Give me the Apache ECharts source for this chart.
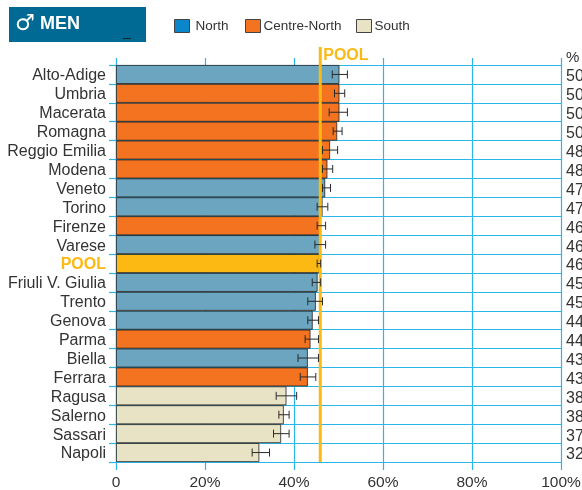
<!DOCTYPE html>
<html>
<head>
<meta charset="utf-8">
<style>html,body{margin:0;padding:0;background:#fff}#c{width:582px;height:490px}</style>
<script src="https://cdn.jsdelivr.net/npm/echarts@6/dist/echarts.min.js"></script>
</head>
<body>
<div id="c"></div>
<script>
const categories = ['Alto-Adige','Umbria','Macerata','Romagna','Reggio Emilia','Modena','Veneto','Torino','Firenze','Varese','POOL','Friuli V. Giulia','Trento','Genova','Parma','Biella','Ferrara','Ragusa','Salerno','Sassari','Napoli'];
const regions = ['North','Centre-North','Centre-North','Centre-North','Centre-North','Centre-North','North','North','Centre-North','North','POOL','North','North','North','Centre-North','North','Centre-North','South','South','South','South'];
const values = [50.2,50.2,50.2,49.7,48.1,47.5,47.0,46.4,45.9,45.9,45.8,45.3,44.9,44.2,43.7,43.1,43.1,38.3,37.7,37.1,32.2];
const lows = [48.6,49.1,47.9,48.8,46.4,46.4,46.4,45.2,45.2,44.7,45.2,44.1,43.1,43.1,42.5,40.9,41.4,36.0,36.6,35.4,30.6];
const highs = [52.0,51.4,52.0,50.8,49.8,48.7,48.2,47.6,47.1,47.1,46.0,46.0,46.4,45.5,45.5,45.5,44.9,40.6,38.9,38.9,34.5];
const percentLabels = ['50','50','50','50','48','48','47','47','46','46','46','45','45','44','44','43','43','38','38','37','32'];
const poolValue = 45.9;

const barColors = {North:'#6ba5bf','Centre-North':'#f47321',South:'#e8e3c5',POOL:'#fdb913'};
const legendColors = {North:'#0b86cb','Centre-North':'#f47321',South:'#e8e3c5'};
const blue = '#2bb6ea';
const ink = '#333333';
const font = '"Liberation Sans", Arial, sans-serif';

const barSeries = Object.keys(barColors).map(name => ({
  name, type:'bar', stack:'all', barWidth:'100%', z:2,
  itemStyle:{color:barColors[name], borderColor:'#222', borderWidth:0.8},
  data: values.map((v,i) => regions[i] === name ? v : null)
}));

const errorSeries = {
  type:'custom', z:6, clip:false, silent:true,
  encode:{x:[1,2], y:0},
  data: categories.map((c,i) => [i, lows[i], highs[i]]),
  renderItem(params, api){
    const a = api.coord([api.value(1), api.value(0)]);
    const b = api.coord([api.value(2), api.value(0)]);
    const style = {stroke:'#2a2a2a', lineWidth:1, fill:null};
    const cap = 4;
    return {type:'group', children:[
      {type:'line', shape:{x1:a[0],y1:a[1],x2:b[0],y2:b[1]}, style},
      {type:'line', shape:{x1:a[0],y1:a[1]-cap,x2:a[0],y2:a[1]+cap}, style},
      {type:'line', shape:{x1:b[0],y1:b[1]-cap,x2:b[0],y2:b[1]+cap}, style}
    ]};
  }
};

const poolSeries = {
  type:'custom', z:5, clip:false, silent:true,
  encode:{x:0},
  data:[[poolValue]],
  renderItem(params, api){
    const x = api.coord([api.value(0), 0])[0];
    const s = params.coordSys;
    const top = s.y - 18;
    return {type:'group', children:[
      {type:'line', shape:{x1:x,y1:top,x2:x,y2:s.y+s.height}, style:{stroke:'#fdb913', lineWidth:3}},
      {type:'text', style:{x:x+3, y:top+9, text:'POOL', fill:'#fdb913', font:'bold 16px '+font, textAlign:'left', textVerticalAlign:'middle'}}
    ]};
  }
};

function legendFor(name, left, gapPad){
  return {
    show:true, left, top:19, orient:'horizontal', itemWidth:15, itemHeight:13, itemGap:0, padding:0,
    selectedMode:false,
    data:[{name, icon:'rect', itemStyle:{color:legendColors[name], borderColor:'#444', borderWidth:1}}],
    textStyle:{fontFamily:font, fontSize:13.5, color:ink, padding:[0,0,0,gapPad]}
  };
}

const chart = echarts.init(document.getElementById('c'), null, {renderer:'canvas'});
chart.setOption({
  animation:false,
  backgroundColor:'#fff',
  textStyle:{fontFamily:font},
  grid:{left:116, top:65, width:445, height:397, containLabel:false, outerBoundsMode:'none'},
  legend:[legendFor('North',174,1), legendFor('Centre-North',245,-2), legendFor('South',356,-2)],
  xAxis:[{
    type:'value', min:0, max:100, interval:20, position:'bottom',
    axisLine:{show:false},
    axisTick:{show:true, length:8, lineStyle:{color:blue, width:1.2}},
    axisLabel:{fontFamily:font, fontSize:15.5, color:ink, margin:13,
      formatter:v => v === 0 ? '0' : v + '%',
      showMaxLabel:true, showMinLabel:true},
    splitLine:{show:true, lineStyle:{color:blue, width:1.2}}
  },{
    type:'value', min:0, max:100, interval:20, position:'top',
    axisLine:{show:false},
    axisTick:{show:true, length:7, lineStyle:{color:blue, width:1.2}},
    axisLabel:{show:false},
    splitLine:{show:false}
  }],
  yAxis:[{
    type:'category', inverse:true, data:categories, position:'left',
    axisLine:{show:false},
    axisTick:{show:true, length:7, alignWithLabel:false, lineStyle:{color:blue, width:1.2}},
    axisLabel:{fontFamily:font, fontSize:16, color:ink, margin:10, interval:0, padding:[3,0,0,0],
      formatter:v => v === 'POOL' ? '{p|POOL}' : v,
      rich:{p:{fontFamily:font, fontSize:16, fontWeight:'bold', color:'#fdb913'}}},
    splitLine:{show:true, interval:0, lineStyle:{color:blue, width:1.2}}
  },{
    type:'category', inverse:true, data:percentLabels, position:'right',
    axisLine:{show:false}, axisTick:{show:false},
    axisLabel:{fontFamily:font, fontSize:16, color:ink, margin:5, interval:0,
      formatter:v => '{a|' + v + '}',
      rich:{a:{fontFamily:font, fontSize:16, color:ink, padding:[5,0,0,0]}}},
    splitLine:{show:false}
  }],
  series:[...barSeries, poolSeries, errorSeries],
  graphic:[
    {type:'rect', left:9, top:7, shape:{width:137,height:35}, style:{fill:'#006a94'}},
    {type:'text', left:15, top:13, style:{text:'\u2642', fill:'#fff', font:'22px "DejaVu Sans"'}},
    {type:'text', left:40, top:15, style:{text:'MEN', fill:'#fff', font:'bold 18px '+font}},
    {type:'rect', left:123, top:38, shape:{width:8,height:1}, style:{fill:'#222'}},
    {type:'text', left:566, top:50, style:{text:'%', fill:ink, font:'15px '+font}}
  ]
});
</script>
</body>
</html>
